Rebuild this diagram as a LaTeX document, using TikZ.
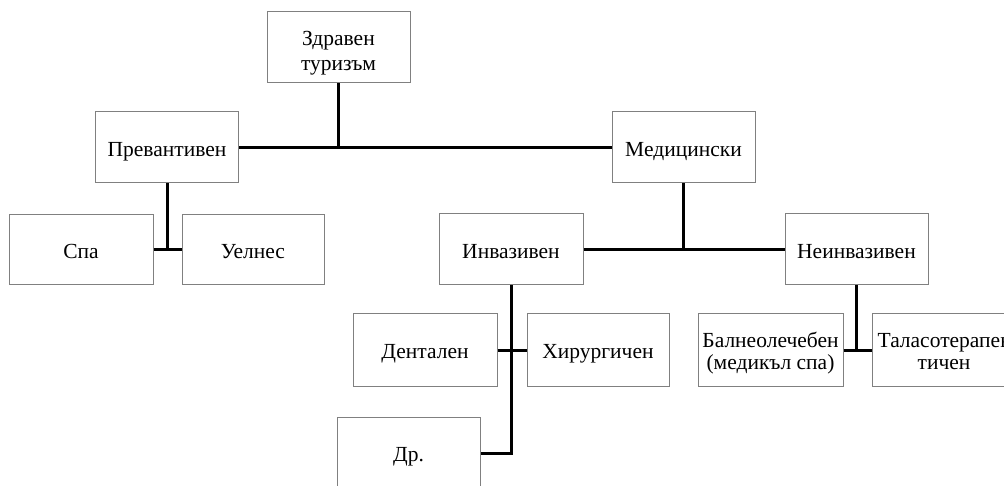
\documentclass[tikz,border=0pt]{standalone}
\usepackage{fontspec}
\setmainfont{Liberation Serif}
\begin{document}
\begin{tikzpicture}[x=1pt,y=-1pt,
  box/.style={draw=black!50, line width=1pt, fill=white, align=center, inner sep=0pt,
    minimum width=143pt, minimum height=71pt, font=\fontsize{21.5}{22}\selectfont,
    text height=19pt, text depth=1.5pt},
  twoline/.style={text height=40pt, text depth=0pt},
  link/.style={draw=black, line width=3pt}]
\useasboundingbox (0,0) rectangle (1004,486);
\clip (0,0) rectangle (1004,486);
\node[box, twoline, font=\fontsize{21.5}{25}\selectfont, text height=46pt] (zdr) at (338.5,47.5) {Здравен\\туризъм};
\node[box] (prev) at (167,147.5) {Превантивен};
\node[box] (med) at (683.5,147.5) {Медицински};
\node[box, minimum width=144pt, minimum height=70pt] (spa) at (81,250) {Спа};
\node[box, minimum width=142pt, minimum height=70pt] (uel) at (253,250) {Уелнес};
\node[box, minimum width=144pt] (inv) at (511,249.5) {Инвазивен};
\node[box] (nei) at (856.5,249.5) {Неинвазивен};
\node[box, minimum width=144pt, minimum height=72pt] (den) at (425,350) {Дентален};
\node[box, minimum width=142pt, minimum height=72pt] (hir) at (598,350) {Хирургичен};
\node[box, twoline, minimum width=145pt, minimum height=72pt] (bal) at (770.5,350) {Балнеолечебен\\(медикъл спа)};
\node[box, twoline, minimum width=144pt, minimum height=72pt] (tal) at (944,350) {Таласотерапев\\тичен};
\node[box, minimum width=143pt, minimum height=72pt] (dr) at (408.5,453) {Др.};
\draw[link] (prev.east) -- (med.west);
\draw[link] (zdr.south) -- (zdr.south |- prev.east);
\draw[link] (spa.east) -- (uel.west);
\draw[link] (prev.south) -- (prev.south |- spa.east);
\draw[link] (inv.east) -- (nei.west);
\draw[link] (med.south) -- (med.south |- inv.east);
\draw[link] (den.east) -- (hir.west);
\draw[link] (inv.south) -- (inv.south |- dr.east) -- (dr.east);
\draw[link] (bal.east) -- (tal.west);
\draw[link] (nei.south) -- (nei.south |- bal.east);
\end{tikzpicture}
\end{document}
